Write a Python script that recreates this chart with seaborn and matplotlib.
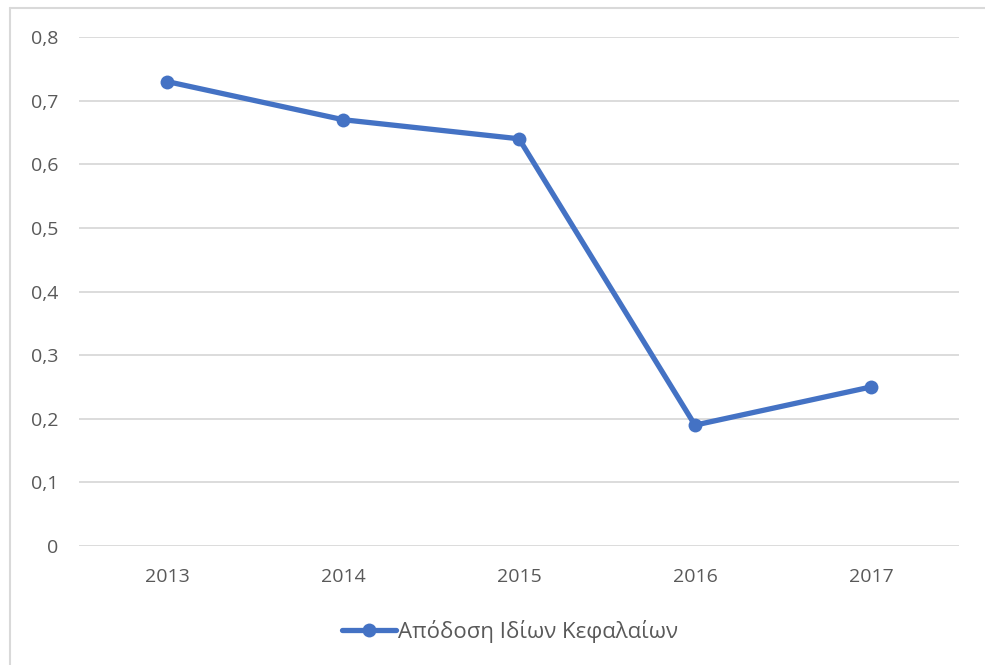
import matplotlib
matplotlib.use("Agg")
import matplotlib.pyplot as plt
import matplotlib.lines as mlines
import seaborn as sns
import pandas as pd

years = ["2013", "2014", "2015", "2016", "2017"]
roe = [0.73, 0.67, 0.64, 0.19, 0.25]
series_name = "Απόδοση Ιδίων Κεφαλαίων"
y_ticks = [0, 0.1, 0.2, 0.3, 0.4, 0.5, 0.6, 0.7, 0.8]

sns.set_theme(style="white")
plt.rcParams["font.family"] = ["Open Sans", "DejaVu Sans"]

df = pd.DataFrame({"year": years, "value": roe})

blue = "#4472C4"
text_col = "#595959"
grid_col = "#D9D9D9"

fig = plt.figure(figsize=(9.85, 6.65), dpi=100)
ax = fig.add_axes([0.0802, 0.1789, 0.8934, 0.7655])

sns.lineplot(data=df, x="year", y="value", ax=ax, color=blue, linewidth=3.8,
             marker="o", markersize=10, markeredgewidth=0, sort=False)

ax.set_xlim(-0.5, len(years) - 0.5)
ax.set_ylim(0, 0.8)
ax.set_yticks(y_ticks)
ax.set_yticklabels([("%g" % t).replace(".", ",") for t in y_ticks])
ax.set_xlabel("")
ax.set_ylabel("")
ax.tick_params(axis="both", length=0, labelsize=14, colors=text_col)
ax.tick_params(axis="y", pad=15)
ax.tick_params(axis="x", pad=16)
for s in ax.spines.values():
    s.set_visible(False)
ax.yaxis.grid(True, color=grid_col, linewidth=1.3)
ax.set_axisbelow(True)

handle = mlines.Line2D([], [], color=blue, linewidth=3.8, marker="o",
                       markersize=10, markeredgewidth=0)
fig.legend([handle], [series_name], loc="center", bbox_to_anchor=(0.518, 0.051),
           frameon=False, fontsize=16, labelcolor=text_col, handlelength=2.4,
           handletextpad=0.1)

# chart-area border (top and left edges)
fig.add_artist(mlines.Line2D([10 / 985, 1.0], [1 - 7.5 / 665, 1 - 7.5 / 665],
                             transform=fig.transFigure, color=grid_col, linewidth=1.5))
fig.add_artist(mlines.Line2D([10 / 985, 10 / 985], [0, 1 - 7.5 / 665],
                             transform=fig.transFigure, color=grid_col, linewidth=1.5))

fig.savefig("out.png", dpi=100)
